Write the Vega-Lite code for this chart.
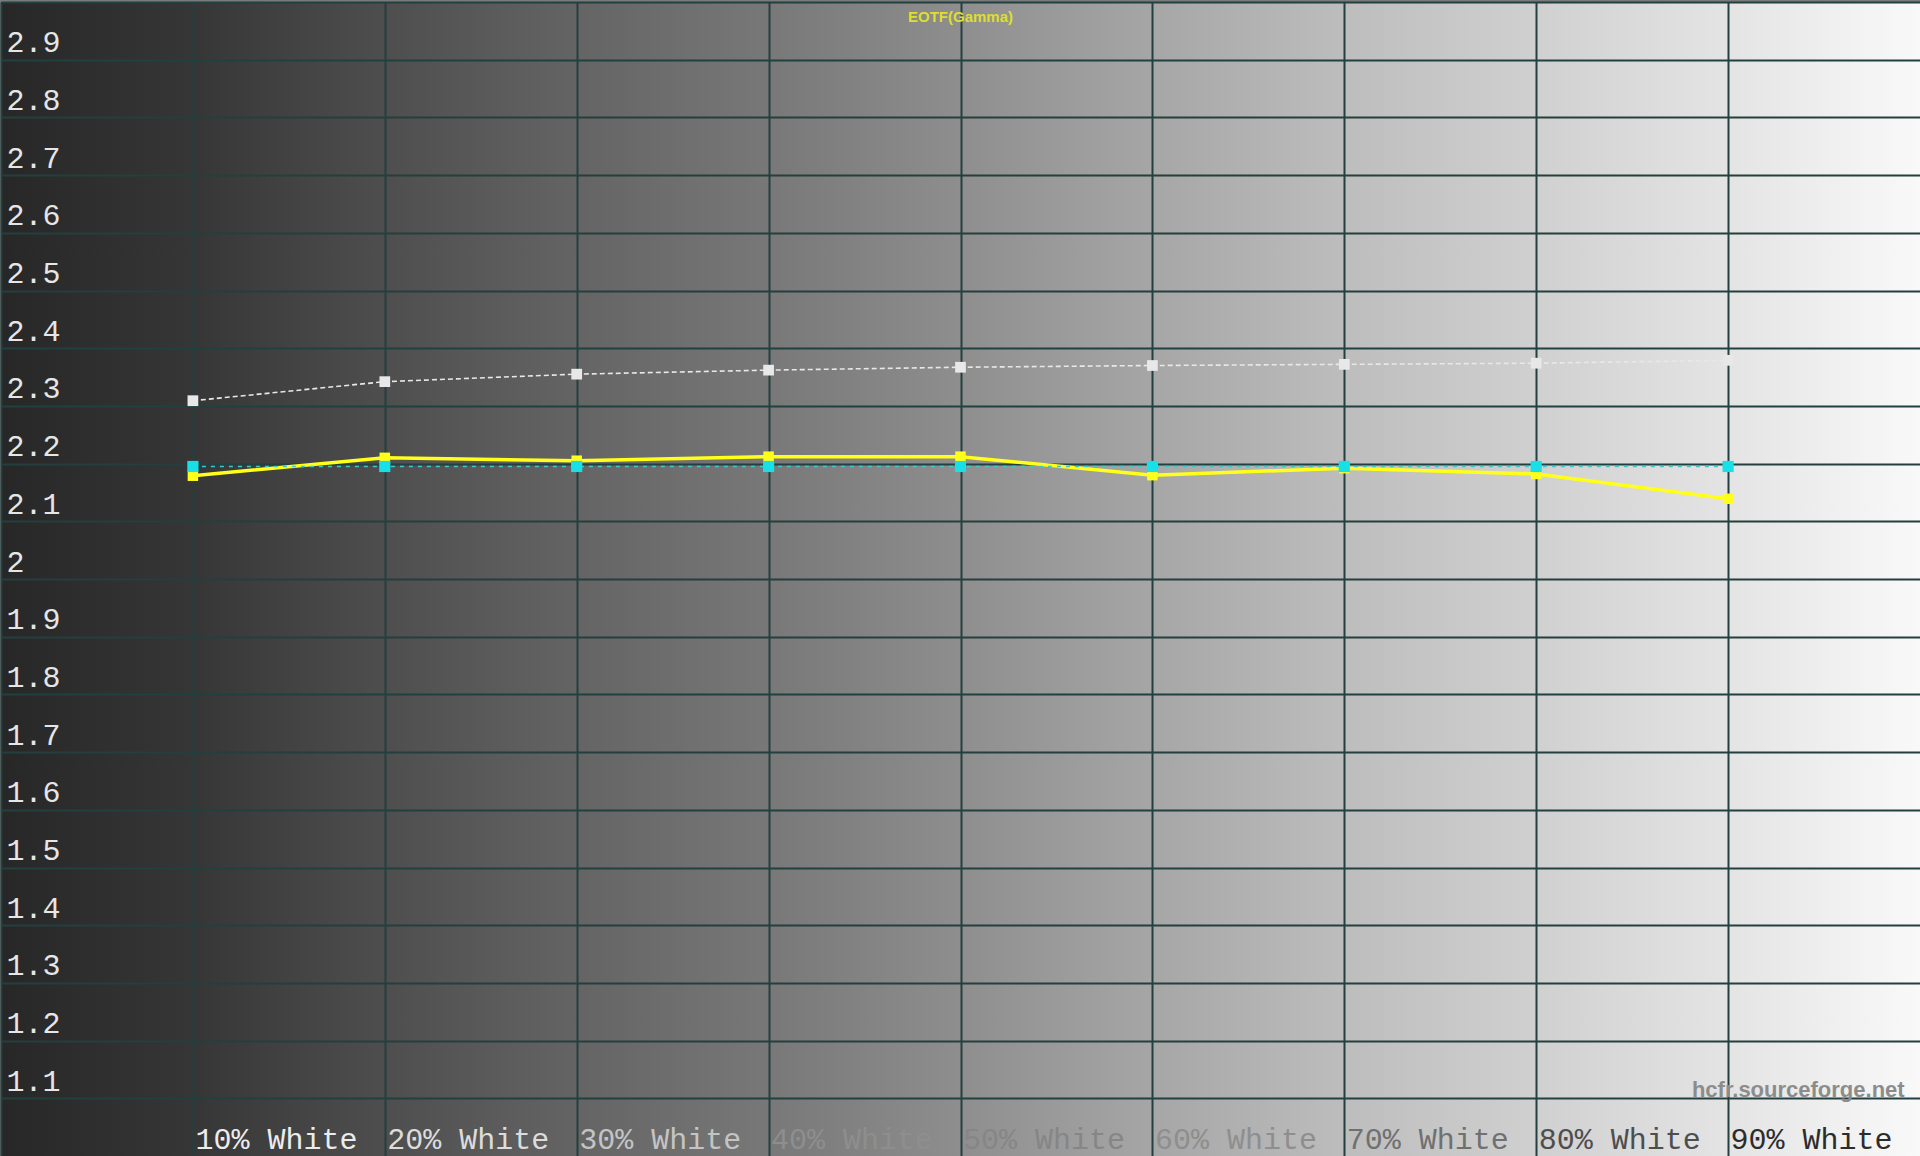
{
  "$schema": "https://vega.github.io/schema/vega-lite/v6.json",
  "width": 1919,
  "height": 1154,
  "autosize": "none",
  "padding": {"left": 1, "top": 2, "right": 0, "bottom": 0},
  "background": "#7a7a7a",
  "config": {
    "view": {
      "stroke": null,
      "fill": {
        "gradient": "linear",
        "x1": 0, "y1": 0, "x2": 1, "y2": 0,
        "stops": [
          {"offset": 0.0, "color": "#272727"},
          {"offset": 0.1, "color": "#363636"},
          {"offset": 0.2, "color": "#4e4e4e"},
          {"offset": 0.3, "color": "#646464"},
          {"offset": 0.4, "color": "#787878"},
          {"offset": 0.5, "color": "#8e8e8e"},
          {"offset": 0.6, "color": "#a6a6a6"},
          {"offset": 0.7, "color": "#bdbdbd"},
          {"offset": 0.8, "color": "#d0d0d0"},
          {"offset": 0.9, "color": "#e4e4e4"},
          {"offset": 1.0, "color": "#f9f9f9"}
        ]
      }
    },
    "axis": {
      "domain": false,
      "ticks": false,
      "tickSize": 0,
      "grid": true,
      "gridColor": "#22403f",
      "gridWidth": 2,
      "labelFont": "Liberation Mono",
      "labelFontSize": 30,
      "labelOverlap": false,
      "labelBound": false,
      "labelFlush": false,
      "title": null
    }
  },
  "datasets": {
    "gamma": [
      {"level": 10, "series": "Reference", "gamma": 2.195},
      {"level": 20, "series": "Reference", "gamma": 2.195},
      {"level": 30, "series": "Reference", "gamma": 2.195},
      {"level": 40, "series": "Reference", "gamma": 2.195},
      {"level": 50, "series": "Reference", "gamma": 2.195},
      {"level": 60, "series": "Reference", "gamma": 2.195},
      {"level": 70, "series": "Reference", "gamma": 2.195},
      {"level": 80, "series": "Reference", "gamma": 2.195},
      {"level": 90, "series": "Reference", "gamma": 2.195},
      {"level": 10, "series": "Measured", "gamma": 2.179},
      {"level": 20, "series": "Measured", "gamma": 2.210},
      {"level": 30, "series": "Measured", "gamma": 2.205},
      {"level": 40, "series": "Measured", "gamma": 2.212},
      {"level": 50, "series": "Measured", "gamma": 2.212},
      {"level": 60, "series": "Measured", "gamma": 2.180},
      {"level": 70, "series": "Measured", "gamma": 2.192},
      {"level": 80, "series": "Measured", "gamma": 2.182},
      {"level": 90, "series": "Measured", "gamma": 2.139},
      {"level": 10, "series": "Comparison", "gamma": 2.309},
      {"level": 20, "series": "Comparison", "gamma": 2.342},
      {"level": 30, "series": "Comparison", "gamma": 2.355},
      {"level": 40, "series": "Comparison", "gamma": 2.362},
      {"level": 50, "series": "Comparison", "gamma": 2.367},
      {"level": 60, "series": "Comparison", "gamma": 2.370},
      {"level": 70, "series": "Comparison", "gamma": 2.372},
      {"level": 80, "series": "Comparison", "gamma": 2.374},
      {"level": 90, "series": "Comparison", "gamma": 2.379}
    ],
    "notes": [
      {"note": "EOTF(Gamma)"},
      {"note": "hcfr.sourceforge.net"}
    ]
  },
  "layer": [
    {
      "data": {"name": "gamma"},
      "encoding": {
        "x": {
          "field": "level",
          "type": "quantitative",
          "scale": {"domain": [0, 100], "nice": false, "zero": false},
          "axis": {
            "orient": "bottom",
            "values": [0, 10, 20, 30, 40, 50, 60, 70, 80, 90],
            "labelExpr": "datum.value == 0 ? '' : datum.value + '% White'",
            "labelAlign": "left",
            "labelBaseline": "alphabetic",
            "labelPadding": -8,
            "labelOffset": 2,
            "labelColor": {
              "condition": [
                {"test": "datum.value <= 10", "value": "#ececec"},
                {"test": "datum.value <= 20", "value": "#dcdcdc"},
                {"test": "datum.value <= 30", "value": "#c4c4c4"},
                {"test": "datum.value <= 40", "value": "#8e8e8e"},
                {"test": "datum.value <= 50", "value": "#868686"},
                {"test": "datum.value <= 60", "value": "#8e8e8e"},
                {"test": "datum.value <= 70", "value": "#707070"},
                {"test": "datum.value <= 80", "value": "#4e4e4e"}
              ],
              "value": "#2c2c2c"
            }
          }
        },
        "y": {
          "field": "gamma",
          "type": "quantitative",
          "scale": {"domain": [1, 3], "nice": false, "zero": false},
          "axis": {
            "orient": "left",
            "values": [1.1, 1.2, 1.3, 1.4, 1.5, 1.6, 1.7, 1.8, 1.9, 2, 2.1, 2.2, 2.3, 2.4, 2.5, 2.6, 2.7, 2.8, 2.9, 3],
            "labelExpr": "datum.value > 2.95 ? '' : '' + datum.value",
            "labelAlign": "left",
            "labelBaseline": "alphabetic",
            "labelPadding": -5,
            "labelOffset": -8,
            "labelColor": "#e6e6e6"
          }
        }
      },
      "layer": [
        {
          "transform": [{"filter": "datum.series == 'Comparison'"}],
          "mark": {"type": "line", "color": "#e8e8e8", "strokeWidth": 1.6, "strokeDash": [5, 3]}
        },
        {
          "transform": [{"filter": "datum.series == 'Comparison'"}],
          "mark": {"type": "square", "color": "#e8e8e8", "filled": true, "opacity": 1, "size": 115}
        },
        {
          "transform": [{"filter": "datum.series == 'Measured'"}],
          "mark": {"type": "line", "color": "#ffff1a", "strokeWidth": 3.5}
        },
        {
          "transform": [{"filter": "datum.series == 'Measured'"}],
          "mark": {"type": "square", "color": "#ffff1a", "filled": true, "opacity": 1, "size": 110}
        },
        {
          "transform": [{"filter": "datum.series == 'Reference'"}],
          "mark": {"type": "line", "color": "#3cc8c8", "strokeWidth": 1.6, "strokeDash": [4, 5]}
        },
        {
          "transform": [{"filter": "datum.series == 'Reference'"}],
          "mark": {"type": "square", "color": "#18e0e8", "filled": true, "opacity": 1, "size": 125}
        }
      ]
    },
    {
      "data": {"name": "notes"},
      "transform": [{"filter": "datum.note == 'EOTF(Gamma)'"}],
      "mark": {
        "type": "text",
        "align": "center",
        "baseline": "alphabetic",
        "font": "Liberation Sans",
        "fontSize": 15,
        "fontWeight": "bold",
        "color": "#dede2c"
      },
      "encoding": {
        "text": {"field": "note", "type": "nominal"},
        "x": {"datum": 50, "type": "quantitative"},
        "y": {"datum": 2.965, "type": "quantitative"}
      }
    },
    {
      "data": {"name": "notes"},
      "transform": [{"filter": "datum.note == 'hcfr.sourceforge.net'"}],
      "mark": {
        "type": "text",
        "align": "right",
        "baseline": "alphabetic",
        "font": "Liberation Sans",
        "fontSize": 22,
        "fontWeight": "bold",
        "color": "#8c8c8c"
      },
      "encoding": {
        "text": {"field": "note", "type": "nominal"},
        "x": {"datum": 99.2, "type": "quantitative"},
        "y": {"datum": 1.103, "type": "quantitative"}
      }
    }
  ]
}
